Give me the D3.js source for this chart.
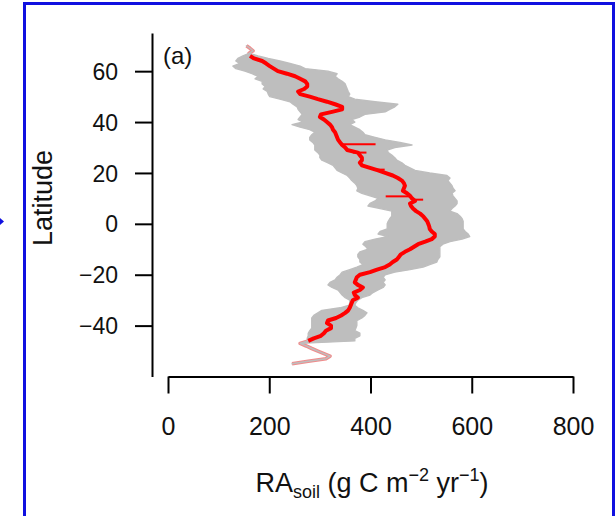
<!DOCTYPE html>
<html>
<head>
<meta charset="utf-8">
<script src="https://cdn.jsdelivr.net/npm/d3@7"></script>
<style>
  body { margin: 0; background: #fff; }
  text { font-family: "Liberation Sans", Arial, sans-serif; fill: #111; }
</style>
</head>
<body>
<script>
// latitude grid, north to south
const latitude = [
  70, 69, 68, 67, 66, 65, 64, 63, 62, 61,
  60, 59, 58, 57, 56, 55, 54, 53, 52, 51,
  50, 49, 48, 47, 46, 45, 44, 43, 42, 41,
  40, 39, 38, 37, 36, 35, 34, 33, 32, 31,
  30, 29, 28, 27, 26, 25, 24, 23, 22, 21,
  20, 19, 18, 17, 16, 15, 14, 13, 12, 11,
  10, 9, 8, 7, 6, 5, 4, 3, 2, 1,
  0, -1, -2, -3, -4, -5, -6, -7, -8, -9,
  -10, -11, -12, -13, -14, -15, -16, -17, -18, -19,
  -20, -21, -22, -23, -24, -25, -26, -27, -28, -29,
  -30, -31, -32, -33, -34, -35, -36, -37, -38, -39,
  -40, -41, -42, -43, -44, -45, -46, -47, -48, -49,
  -50, -51, -52, -53, -54, -55
]

// zonal mean RA soil (g C m-2 yr-1)
const meanRA = [
  155, 162, 168, 160, 162, 170, 186, 194, 201, 209,
  217, 235, 251, 261, 271, 275, 275, 269, 257, 261,
  280, 296, 314, 330, 344, 344, 324, 302, 300, 308,
  314, 320, 324, 326, 330, 332, 334, 336, 340, 344,
  350, 354, 375, 379, 383, 383, 379, 383, 399, 415,
  429, 444, 454, 462, 466, 468, 466, 464, 472, 478,
  482, 488, 478, 480, 484, 490, 498, 504, 508, 512,
  514, 516, 517, 521, 527, 527, 521, 508, 494, 486,
  478, 468, 460, 456, 452, 444, 438, 429, 413, 399,
  379, 373, 371, 369, 375, 385, 379, 367, 369, 375,
  365, 363, 361, 359, 356, 350, 342, 332, 316, 314,
  322, 322, 312, 308, 302, 288, 277, 261, 273, 284,
  296, 308, 320, 312, 277, 245
]

// lower and upper edge of the grey range
const lowerRA = [
  155, 162, 168, 160, 148, 138, 134, 142, 128, 134,
  152, 166, 178, 172, 186, 186, 192, 188, 196, 198,
  201, 221, 241, 247, 255, 257, 261, 265, 261, 257,
  267, 245, 261, 280, 290, 284, 280, 280, 286, 290,
  290, 290, 296, 300, 300, 304, 316, 326, 330, 334,
  344, 354, 359, 363, 369, 373, 375, 373, 383, 399,
  415, 409, 399, 395, 419, 442, 442, 442, 438, 435,
  433, 433, 433, 419, 415, 435, 409, 389, 385, 391,
  395, 379, 375, 375, 379, 379, 385, 373, 359, 344,
  340, 334, 330, 320, 316, 324, 336, 340, 344, 350,
  359, 359, 358, 340, 304, 296, 288, 284, 284, 284,
  284, 284, 280, 277, 277, 275, 275, 261, 273, 284,
  296, 308, 320, 312, 277, 245
]

const upperRA = [
  155, 162, 168, 160, 178, 198, 221, 241, 261, 271,
  316, 334, 330, 336, 344, 350, 352, 354, 356, 359,
  356, 369, 409, 454, 448, 438, 429, 389, 379, 363,
  369, 359, 369, 379, 385, 389, 409, 429, 458, 482,
  448, 433, 435, 442, 448, 452, 462, 468, 478, 488,
  517, 551, 557, 553, 557, 561, 563, 567, 561, 563,
  567, 571, 571, 567, 561, 557, 571, 577, 581, 583,
  583, 583, 583, 587, 593, 596, 581, 557, 543, 537,
  537, 537, 537, 537, 533, 531, 517, 504, 478, 448,
  429, 425, 429, 425, 429, 425, 415, 405, 399, 383,
  375, 371, 369, 375, 385, 393, 389, 383, 373, 373,
  373, 371, 369, 379, 379, 369, 369, 261, 273, 284,
  296, 308, 320, 312, 277, 245
]

// short red excursions of the mean band
const spikeLat = [31.3, 28, 21.3, 10.8, 9.5]
const spikeLow = [340, 365, 405, 430, 484]
const spikeHigh = [410, 392, 428, 478, 504]

const xTicks = [0, 200, 400, 600, 800]
const yTicks = [-40, -20, 0, 20, 40, 60]

const width = 616
const height = 516

const svg = d3.select('body')
  .append('svg')
  .attr('width', width)
  .attr('height', height)

// blue frame of the panel
svg.append('rect')
  .attr('x', 24.5)
  .attr('y', 3.5)
  .attr('width', 589)
  .attr('height', 520)
  .attr('fill', 'none')
  .attr('stroke', '#1010e0')
  .attr('stroke-width', 3)

svg.append('path')
  .attr('d', 'M0,218 L4,221.5 L0,225 Z')
  .attr('fill', '#1010e0')

const x = d3.scaleLinear().domain([0, 800]).range([168, 573])
const y = d3.scaleLinear().domain([-60, 75]).range([376.5, 33])

const rows = latitude.map((lat, i) => ({
  lat,
  mean: meanRA[i],
  lo: lowerRA[i],
  hi: upperRA[i]
}))

// thin pink trace under everything, visible where the band collapses
svg.append('path')
  .datum(rows)
  .attr('fill', 'none')
  .attr('stroke', '#f08c8c')
  .attr('stroke-width', 3.6)
  .attr('stroke-linejoin', 'round')
  .attr('d', d3.line().x(d => x(d.mean)).y(d => y(d.lat)))

const area = d3.area()
  .y(d => y(d.lat))
  .x0(d => x(d.lo))
  .x1(d => x(d.hi))

svg.append('path')
  .datum(rows)
  .attr('fill', '#bebebe')
  .attr('stroke', '#bebebe')
  .attr('stroke-width', 1.4)
  .attr('stroke-linejoin', 'round')
  .attr('d', area)

// red mean only where there is a range
svg.append('path')
  .datum(rows)
  .attr('fill', 'none')
  .attr('stroke', '#ff0000')
  .attr('stroke-width', 4)
  .attr('stroke-linejoin', 'round')
  .attr('d', d3.line()
    .defined(d => d.hi > d.lo)
    .x(d => x(d.mean))
    .y(d => y(d.lat)))

svg.append('g')
  .selectAll('line')
  .data(spikeLat)
  .join('line')
  .attr('x1', (d, i) => x(spikeLow[i]))
  .attr('x2', (d, i) => x(spikeHigh[i]))
  .attr('y1', d => y(d))
  .attr('y2', d => y(d))
  .attr('stroke', '#ff0000')
  .attr('stroke-width', 2)

// axes
const xAxis = svg.append('g')
  .attr('transform', 'translate(0, 376.5)')
  .call(d3.axisBottom(x).tickValues(xTicks).tickSize(17).tickSizeOuter(0).tickPadding(24))

const yAxis = svg.append('g')
  .attr('transform', 'translate(152, 0)')
  .call(d3.axisLeft(y).tickValues(yTicks).tickSize(17).tickSizeOuter(0).tickPadding(17))

for (const g of [xAxis, yAxis]) {
  g.selectAll('path, line').attr('stroke', '#000').attr('stroke-width', 2)
  g.selectAll('text').attr('fill', '#111').style('font-family', '"Liberation Sans", Arial, sans-serif')
}
xAxis.selectAll('text').style('font-size', '25px')
yAxis.selectAll('text').style('font-size', '23px').attr('dy', '0.35em')

svg.append('text')
  .attr('x', 163)
  .attr('y', 64)
  .style('font-size', '24px')
  .text('(a)')

svg.append('text')
  .attr('transform', 'translate(52, 198) rotate(-90)')
  .attr('text-anchor', 'middle')
  .style('font-size', '27px')
  .text('Latitude')

const xTitle = svg.append('text')
  .attr('x', 372)
  .attr('y', 492)
  .attr('text-anchor', 'middle')
  .style('font-size', '27px')

xTitle.append('tspan').text('RA')
xTitle.append('tspan').attr('dy', 6).style('font-size', '18px').text('soil')
xTitle.append('tspan').attr('dy', -6).text(' (g C m')
xTitle.append('tspan').attr('dy', -11).style('font-size', '18px').text('\u22122')
xTitle.append('tspan').attr('dy', 11).text(' yr')
xTitle.append('tspan').attr('dy', -11).style('font-size', '18px').text('\u22121')
xTitle.append('tspan').attr('dy', 11).text(')')
</script>
</body>
</html>
